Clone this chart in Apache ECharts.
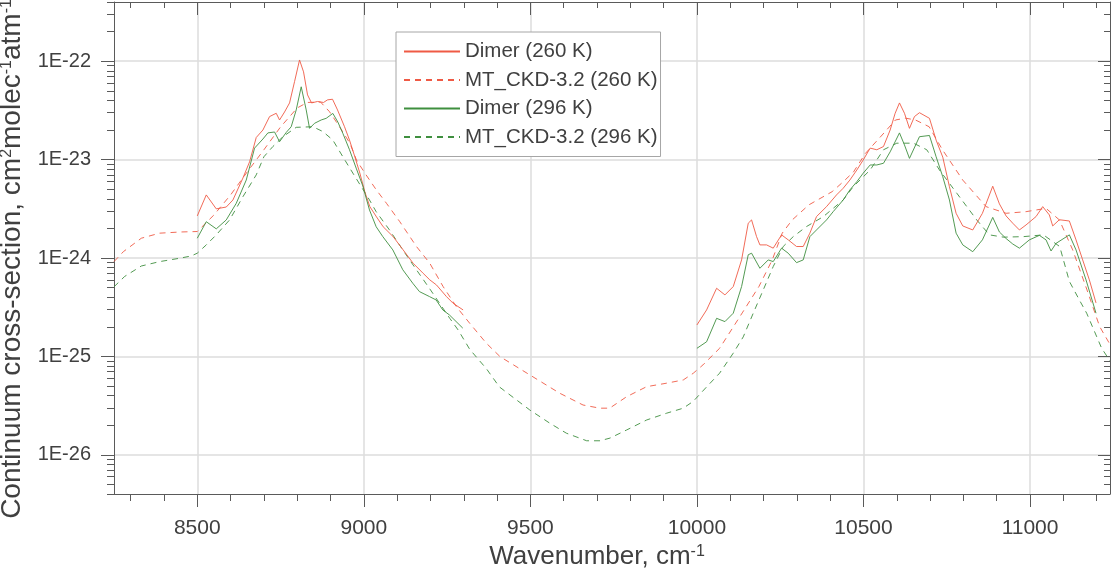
<!DOCTYPE html>
<html><head><meta charset="utf-8">
<script src="https://cdn.jsdelivr.net/npm/echarts@6/dist/echarts.min.js"></script>
<style>html,body{margin:0;padding:0;background:#fff}#c{width:1112px;height:577px}</style>
</head><body><div id="c"></div>
<script>
// ---- data (wavenumber cm-1, cross-section cm2 molec-1 atm-1) ----
const mt260Wn = [8250,8278,8332,8387,8450,8500,8550,8600,8650,8700,8750,8800,8830,8870,8897,8927,8958,8978,9003,9038,9068,9108,9158,9198,9238,9278,9318,9368,9409,9498,9588,9658,9708,9738,9789,9849,9909,9959,9989,10018,10068,10136,10186,10226,10256,10286,10336,10406,10440,10470,10506,10556,10596,10626,10656,10697,10737,10798,10868,10928,10988,11048,11088,11128,11171,11209,11238];
const mt260Val = [9.2e-25,1.16e-24,1.59e-24,1.79e-24,1.84e-24,1.86e-24,2.74e-24,4.38e-24,7.5e-24,1.26e-23,2.15e-23,3.35e-23,3.81e-23,3.85e-23,3.07e-23,2.16e-23,1.47e-23,9.9e-24,7.3e-24,4.9e-24,3.6e-24,2.34e-24,1.31e-24,8.85e-25,5.13e-25,3.2e-25,2.17e-25,1.36e-25,9.95e-26,6.5e-26,4.23e-26,3.21e-26,2.98e-26,2.98e-26,3.9e-26,4.93e-26,5.35e-26,5.77e-26,6.75e-26,8.2e-26,1.21e-25,2.77e-25,5.13e-25,9.57e-25,1.79e-24,2.44e-24,3.47e-24,4.73e-24,6.0e-24,7.5e-24,1.16e-23,1.78e-23,2.53e-23,2.64e-23,2.53e-23,2.16e-23,1.26e-23,6.2e-24,3.33e-24,2.85e-24,2.96e-24,3.2e-24,2.44e-24,1.21e-24,4.74e-25,2.01e-25,1.36e-25];

const mt296Wn = [8250,8282,8332,8387,8447,8482,8500,8527,8557,8597,8637,8677,8700,8727,8757,8797,8847,8877,8907,8937,8967,9017,9037,9077,9117,9150,9200,9258,9283,9318,9368,9407,9498,9558,9608,9669,9709,9739,9789,9849,9909,9959,9989,10029,10068,10109,10139,10169,10199,10229,10259,10289,10329,10379,10439,10469,10520,10560,10600,10650,10690,10728,10780,10840,10878,10920,10980,11040,11089,11118,11148,11170,11215,11240];
const mt296Val = [5.1e-25,6.5e-25,8.3e-25,9.2e-25,9.95e-25,1.05e-24,1.12e-24,1.36e-24,1.72e-24,2.44e-24,4.2e-24,7.0e-24,1.07e-23,1.36e-23,1.71e-23,2.13e-23,2.16e-23,1.93e-23,1.58e-23,1.07e-23,7.3e-24,3.89e-24,2.96e-24,1.93e-24,1.21e-24,8.3e-25,4.75e-25,2.44e-25,1.86e-25,1.18e-25,7.5e-26,4.9e-26,2.86e-26,2.1e-26,1.66e-26,1.39e-26,1.39e-26,1.48e-26,1.79e-26,2.26e-26,2.65e-26,2.98e-26,3.5e-26,4.9e-26,6.76e-26,1.08e-25,1.58e-25,2.75e-25,4.74e-25,8.2e-25,1.31e-24,1.65e-24,2.09e-24,2.63e-24,3.89e-24,5.3e-24,7.85e-24,1.26e-23,1.47e-23,1.47e-23,1.26e-23,7.85e-24,4.56e-24,2.44e-24,1.72e-24,1.63e-24,1.65e-24,1.72e-24,1.31e-24,5.8e-25,3.75e-25,2.75e-25,1.21e-25,9.0e-26];

const dimer260WnA = [8500,8527,8557,8587,8607,8637,8657,8677,8697,8717,8737,8747,8762,8777,8792,8807,8819,8831,8843,8861,8879,8891,8906,8921,8942,8957,8973,8988,9003,9018,9038,9058,9088,9118,9148,9178,9198,9218,9248,9268,9298];
const dimer260ValA = [2.68e-24,4.38e-24,3.16e-24,3.3e-24,3.89e-24,6.5e-24,9.5e-24,1.68e-23,2.0e-23,2.74e-23,2.96e-23,2.53e-23,3.05e-23,3.77e-23,6.2e-23,1.03e-22,7.8e-23,4.55e-23,3.77e-23,3.9e-23,3.81e-23,4.05e-23,4.11e-23,3.2e-23,2.16e-23,1.58e-23,1.07e-23,7.3e-24,4.7e-24,3.33e-24,2.62e-24,2.08e-24,1.65e-24,1.21e-24,8.85e-25,7.0e-25,6.0e-25,5.33e-25,4.06e-25,3.47e-25,2.97e-25];
const dimer260WnB = [10000,10029,10059,10084,10109,10134,10154,10164,10179,10189,10209,10229,10254,10274,10299,10319,10339,10359,10389,10419,10439,10459,10480,10499,10520,10540,10560,10580,10595,10608,10623,10638,10653,10668,10698,10718,10738,10758,10778,10798,10828,10857,10888,10908,10928,10948,10968,10988,11018,11038,11058,11068,11088,11118,11138,11158,11178,11198];
const dimer260ValB = [2.09e-25,2.97e-25,4.93e-25,4.22e-25,5.13e-25,9.57e-25,2.26e-24,2.44e-24,1.65e-24,1.36e-24,1.36e-24,1.26e-24,1.72e-24,1.53e-24,1.31e-24,1.31e-24,1.79e-24,2.64e-24,3.33e-24,4.38e-24,5.12e-24,6.2e-24,7.85e-24,9.9e-24,1.31e-23,1.26e-23,1.36e-23,2.0e-23,2.96e-23,3.77e-23,2.96e-23,2.08e-23,2.74e-23,3.0e-23,2.63e-23,1.58e-23,1.06e-23,5.3e-24,2.85e-24,2.12e-24,1.93e-24,2.85e-24,5.37e-24,3.55e-24,2.68e-24,2.26e-24,1.93e-24,2.17e-24,2.64e-24,3.33e-24,2.74e-24,2.12e-24,2.45e-24,2.38e-24,1.53e-24,9.57e-25,6.0e-25,3.5e-25];

const dimer296WnA = [8500,8527,8557,8587,8617,8647,8672,8697,8712,8732,8747,8767,8782,8797,8812,8827,8837,8852,8872,8887,8907,8922,8937,8957,8977,8997,9017,9037,9057,9087,9117,9147,9167,9197,9217,9237,9257,9297];
const dimer296ValA = [1.59e-24,2.34e-24,1.98e-24,2.44e-24,3.6e-24,6.2e-24,1.31e-23,1.62e-23,1.87e-23,1.91e-23,1.52e-23,1.89e-23,2.16e-23,3.2e-23,5.5e-23,3.2e-23,2.08e-23,2.34e-23,2.53e-23,2.63e-23,2.95e-23,2.41e-23,1.85e-23,1.26e-23,8.2e-24,5.4e-24,3.08e-24,2.08e-24,1.65e-24,1.21e-24,7.6e-25,5.54e-25,4.56e-25,4.06e-25,3.75e-25,2.97e-25,2.64e-25,1.94e-25];
const dimer296WnB = [10000,10029,10059,10084,10109,10134,10154,10164,10189,10214,10229,10254,10274,10299,10319,10339,10359,10389,10409,10439,10459,10480,10499,10520,10540,10560,10580,10608,10623,10638,10668,10698,10718,10738,10758,10778,10798,10828,10857,10888,10908,10928,10948,10968,10998,11028,11048,11063,11078,11118,11138,11168,11198];
const dimer296ValB = [1.21e-25,1.41e-25,2.44e-25,2.26e-25,2.75e-25,5.13e-25,1.08e-24,1.12e-24,7.87e-25,9.57e-25,9.2e-25,1.26e-24,1.12e-24,8.98e-25,9.57e-25,1.65e-24,1.93e-24,2.44e-24,2.96e-24,3.89e-24,4.92e-24,5.97e-24,7.28e-24,8.83e-24,8.83e-24,9.19e-24,1.2e-23,1.87e-23,1.41e-23,1.03e-23,1.71e-23,1.76e-23,1.07e-23,6.7e-24,3.89e-24,1.79e-24,1.36e-24,1.16e-24,1.53e-24,2.59e-24,1.84e-24,1.58e-24,1.39e-24,1.26e-24,1.53e-24,1.7e-24,1.53e-24,1.18e-24,1.41e-24,1.72e-24,1.21e-24,6.0e-25,2.75e-25];

const seriesNames = ['Dimer (260 K)', 'MT_CKD-3.2 (260 K)', 'Dimer (296 K)', 'MT_CKD-3.2 (296 K)'];
const xTickLabels = [8500, 9000, 9500, 10000, 10500, 11000];
const yTickLabels = [1e-26, 1e-25, 1e-24, 1e-23, 1e-22];
const xRange = [8250, 11240];
const yRange = [4e-27, 4e-22];

// ---- helpers: the y axis is a decimal-logarithmic value axis ----
const lg = v => Math.log10(v);
const pairs = (xs, ys) => xs.map((x, i) => [x, lg(ys[i])]);
const gapped = (xa, ya, xb, yb) => pairs(xa, ya).concat([[9650, '-']], pairs(xb, yb));

const xMinor = [];
for (let v = 8300; v <= 11200; v += 100) if (v % 500 !== 0) xMinor.push(v);
const yMinor = [];
for (let e = -27; e <= -22; e++) for (let k = 2; k <= 9; k++) {
  const v = k * Math.pow(10, e);
  if (v >= yRange[0] && v <= yRange[1]) yMinor.push(lg(v));
}
const yMajor = yTickLabels.map(lg);

const FONT = "'Liberation Sans', Arial, Helvetica, sans-serif";
const AX = '#5a5a5a';
const TXT = '#404040';
const RED = '#ef5a45';
const GREEN = '#3f8f3f';
const GRIDC = '#dcdcdc';

function xAx(pos, ticks, len, inside, extra) {
  return Object.assign({
    type: 'value', min: xRange[0], max: xRange[1], position: pos,
    axisLine: { show: false, onZero: false },
    axisTick: { show: true, inside: inside, length: len, customValues: ticks, lineStyle: { color: AX, width: 1 } },
    axisLabel: { show: false }, splitLine: { show: false }, axisPointer: { show: false }
  }, extra || {});
}
function yAx(pos, ticks, len, inside, extra) {
  return Object.assign({
    type: 'value', min: lg(yRange[0]), max: lg(yRange[1]), position: pos,
    axisLine: { show: false, onZero: false },
    axisTick: { show: true, inside: inside, length: len, customValues: ticks, lineStyle: { color: AX, width: 1 } },
    axisLabel: { show: false }, splitLine: { show: false }, axisPointer: { show: false }
  }, extra || {});
}

const supRich = { sup: { fontSize: 16, lineHeight: 16, verticalAlign: 'top', color: TXT, fontFamily: FONT } };

const chart = echarts.init(document.getElementById('c'), null, { renderer: 'canvas' });
chart.setOption({
  animation: false,
  backgroundColor: '#ffffff',
  grid: { left: 114, right: 2, top: 2, bottom: 83, outerBoundsMode: 'none', containLabel: false },
  legend: {
    orient: 'vertical', left: 396, top: 32,
    itemWidth: 56, itemHeight: 14, itemGap: 7.5,
    padding: [9, 3, 9, 7],
    backgroundColor: '#ffffff', borderColor: '#a6a6a6', borderWidth: 1, borderRadius: 0,
    itemStyle: { opacity: 0, color: 'rgba(0,0,0,0)', borderColor: 'rgba(0,0,0,0)', borderWidth: 0 },
    textStyle: { fontSize: 20.5, color: TXT, fontFamily: FONT },
    data: seriesNames, selectedMode: false
  },
  xAxis: [
    xAx('bottom', xTickLabels, 13, false, {
      axisLine: { show: true, onZero: false, lineStyle: { color: AX, width: 1 } },
      axisLabel: { show: true, customValues: xTickLabels, fontSize: 21, color: TXT, fontFamily: FONT, margin: 24,
        formatter: v => String(v) },
      splitLine: { show: true, lineStyle: { color: GRIDC, width: 1.5 } },
      name: 'Wavenumber, cm{sup|-1}', nameLocation: 'middle', nameGap: 46,
      nameTextStyle: { fontSize: 26, color: TXT, fontFamily: FONT, padding: [0, 30, 0, 0], rich: supRich }
    }),
    xAx('bottom', xMinor, 7, false),
    xAx('top', xTickLabels, 13, true, { axisLine: { show: true, onZero: false, lineStyle: { color: AX, width: 1 } } }),
    xAx('top', xMinor, 6, true)
  ],
  yAxis: [
    yAx('left', yMajor, 13, false, {
      axisLine: { show: true, onZero: false, lineStyle: { color: AX, width: 1 } },
      axisLabel: { show: true, customValues: yMajor, fontSize: 20, color: TXT, fontFamily: FONT, margin: 23,
        formatter: v => '1E' + Math.round(v) },
      splitLine: { show: true, lineStyle: { color: GRIDC, width: 1.5 } },
      name: 'Continuum cross-section, cm{sup|2}molec{sup|-1}atm{sup|-1}', nameLocation: 'middle', nameGap: 75, nameRotate: 90,
      nameTextStyle: { fontSize: 28, color: TXT, fontFamily: FONT, padding: [0, 22, 0, 0], rich: supRich }
    }),
    yAx('left', yMinor, 7, false),
    yAx('right', yMajor, 12, true, { axisLine: { show: true, onZero: false, lineStyle: { color: AX, width: 1 } } }),
    yAx('right', yMinor, 6, true)
  ],
  series: [
    { name: seriesNames[0], type: 'line', xAxisIndex: 0, yAxisIndex: 0, symbol: 'none', showSymbol: false, connectNulls: false,
      data: gapped(dimer260WnA, dimer260ValA, dimer260WnB, dimer260ValB),
      lineStyle: { color: RED, width: 0.9 }, itemStyle: { color: RED }, z: 4 },
    { name: seriesNames[1], type: 'line', xAxisIndex: 0, yAxisIndex: 0, symbol: 'none', showSymbol: false,
      data: pairs(mt260Wn, mt260Val),
      lineStyle: { color: RED, width: 0.9, type: [6, 5] }, itemStyle: { color: RED }, z: 3 },
    { name: seriesNames[2], type: 'line', xAxisIndex: 0, yAxisIndex: 0, symbol: 'none', showSymbol: false, connectNulls: false,
      data: gapped(dimer296WnA, dimer296ValA, dimer296WnB, dimer296ValB),
      lineStyle: { color: GREEN, width: 0.9 }, itemStyle: { color: GREEN }, z: 4 },
    { name: seriesNames[3], type: 'line', xAxisIndex: 0, yAxisIndex: 0, symbol: 'none', showSymbol: false,
      data: pairs(mt296Wn, mt296Val),
      lineStyle: { color: GREEN, width: 0.9, type: [6, 5] }, itemStyle: { color: GREEN }, z: 3 }
  ]
});
</script>
</body></html>
